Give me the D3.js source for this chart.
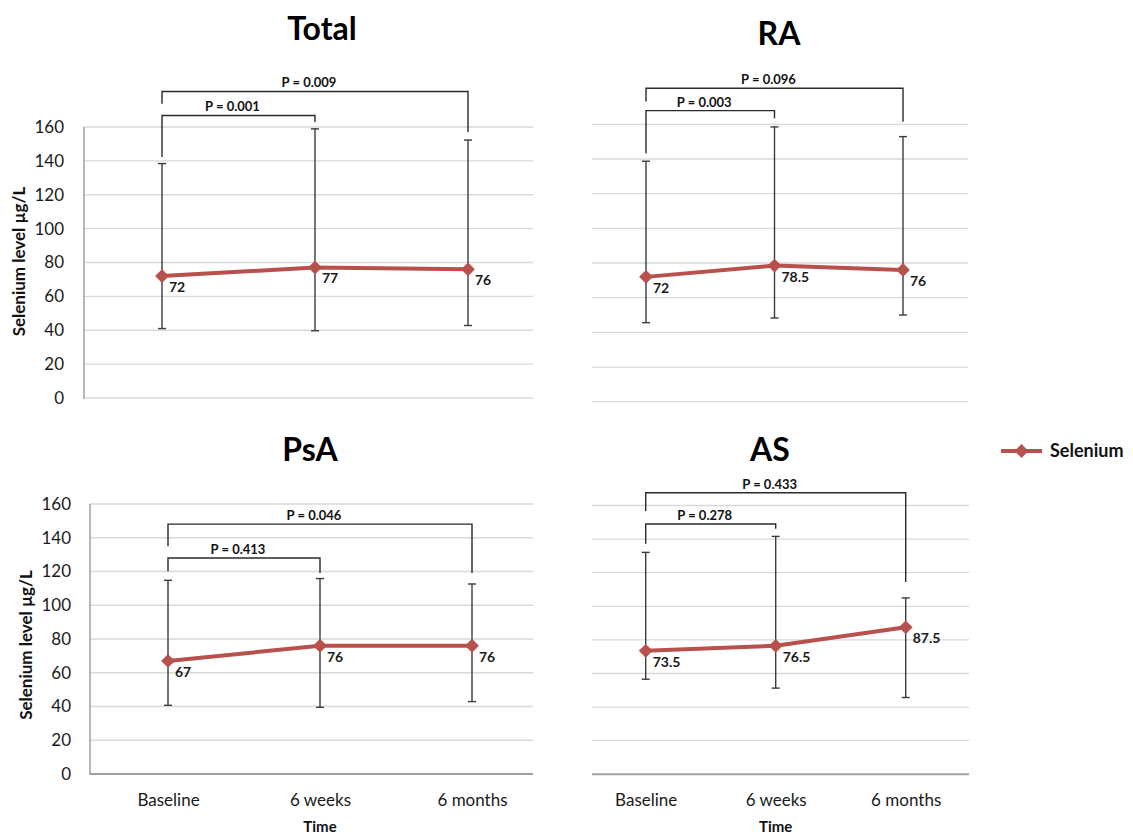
<!DOCTYPE html>
<html>
<head>
<meta charset="utf-8">
<script src="https://cdn.jsdelivr.net/npm/d3@7"></script>
<style>
  html, body { margin: 0; padding: 0; background: #ffffff; }
  svg { display: block; font-family: Lato, "Open Sans", sans-serif; }
</style>
</head>
<body>
<script>
// ---------- data ----------
const categories = ["Baseline", "6 weeks", "6 months"];
const yTicks = [0, 20, 40, 60, 80, 100, 120, 140, 160];
const seriesName = "Selenium";
const yTitle = "Selenium level \u00b5g/L";
const xTitle = "Time";

const panelTitles = ["Total", "RA", "PsA", "AS"];

const meanTotal = [72, 77, 76];
const lowTotal  = [41, 39.7, 42.8];
const highTotal = [138.4, 158.9, 152.3];
const labelsTotal = ["72", "77", "76"];

const meanRA = [72, 78.5, 76];
const lowRA  = [45.6, 48.3, 50];
const highRA = [138.7, 158.5, 152.9];
const labelsRA = ["72", "78.5", "76"];

const meanPsA = [67, 76, 76];
const lowPsA  = [40.7, 39.5, 42.9];
const highPsA = [114.8, 115.8, 112.6];
const labelsPsA = ["67", "76", "76"];

const meanAS = [73.5, 76.5, 87.5];
const lowAS  = [56.6, 51.3, 45.7];
const highAS = [132.1, 141.6, 105];
const labelsAS = ["73.5", "76.5", "87.5"];

// p-value brackets: comparison target, text, bracket level / leg ends (in data units)
const pTextTotal = ["P = 0.001", "P = 0.009"];
const pToTotal = ["6 weeks", "6 months"];
const pLevelTotal = [166.8, 181];
const pLeftEndTotal = [142.3, 173.7];
const pRightEndTotal = [162.9, 157];

const pTextRA = ["P = 0.003", "P = 0.096"];
const pToRA = ["6 weeks", "6 months"];
const pLevelRA = [167.9, 180.8];
const pLeftEndRA = [143.3, 173.1];
const pRightEndRA = [163.5, 161.5];

const pTextPsA = ["P = 0.413", "P = 0.046"];
const pToPsA = ["6 weeks", "6 months"];
const pLevelPsA = [128, 148.1];
const pLeftEndPsA = [120.1, 134.9];
const pRightEndPsA = [119.1, 119.1];

const pTextAS = ["P = 0.278", "P = 0.433"];
const pToAS = ["6 weeks", "6 months"];
const pLevelAS = [149, 167.6];
const pLeftEndAS = [137.2, 156.7];
const pRightEndAS = [146.1, 114.5];

// ---------- styles ----------
const RED = "#b8504d";
const BAR = "#3c3c3c";
const GRID = "#d9d9d9";
const AXIS = "#a0a0a0";

const svg = d3.select("body").append("svg")
  .attr("width", 1133).attr("height", 836);

function buildPanel(name, mean, low, high, labels, pText, pTo, pLevel, pLeft, pRight, layout) {
  const x = d3.scalePoint().domain(categories).range(layout.xr);
  const y = d3.scaleLinear().domain([0, 160]).range(layout.yr);
  const g = svg.append("g");

  // gridlines
  g.selectAll("line.grid").data(yTicks.filter(t => !(layout.xAxisLine && t === 0)))
    .join("line").attr("class", "grid")
    .attr("x1", layout.gx[0]).attr("x2", layout.gx[1])
    .attr("y1", d => y(d)).attr("y2", d => y(d))
    .attr("stroke", GRID).attr("stroke-width", 1.3);

  if (layout.xAxisLine) {
    g.append("line")
      .attr("x1", layout.gx[0]).attr("x2", layout.gx[1])
      .attr("y1", y(0)).attr("y2", y(0))
      .attr("stroke", AXIS).attr("stroke-width", 2);
  }
  if (layout.yAxisLine) {
    g.append("line")
      .attr("x1", layout.gx[0]).attr("x2", layout.gx[0])
      .attr("y1", y(0) + 1).attr("y2", y(160))
      .attr("stroke", AXIS).attr("stroke-width", 1.5);
  }

  if (layout.yLabels) {
    const ax = g.append("g")
      .attr("transform", `translate(${layout.gx[0]},0)`)
      .call(d3.axisLeft(y).tickValues(yTicks).tickSize(0).tickPadding(layout.tickPad));
    ax.select(".domain").remove();
    ax.selectAll("text").attr("font-size", 17).attr("fill", "#1a1a1a")
      .attr("font-family", "Lato, sans-serif");
    g.append("text")
      .attr("transform", `translate(${layout.yTitleX},${(y(0) + y(160)) / 2 + layout.yTitleDy}) rotate(-90)`)
      .attr("text-anchor", "middle").attr("dy", "0.35em")
      .attr("font-size", 17).attr("font-weight", 700).attr("fill", "#111")
      .text(yTitle);
  }

  if (layout.xLabels) {
    const ax = g.append("g")
      .attr("transform", `translate(0,${y(0)})`)
      .call(d3.axisBottom(x).tickSize(0).tickPadding(20));
    ax.select(".domain").remove();
    ax.selectAll("text").attr("font-size", 17).attr("fill", "#1a1a1a")
      .attr("font-family", "Lato, sans-serif");
    g.append("text")
      .attr("x", x(categories[1])).attr("y", y(0) + 58)
      .attr("text-anchor", "middle")
      .attr("font-size", 15).attr("font-weight", 700).attr("fill", "#111")
      .text(xTitle);
  }

  // error bars
  const eb = categories.map((c, i) => ({ c, lo: low[i], hi: high[i] }));
  g.selectAll("line.eb").data(eb).join("line").attr("class", "eb")
    .attr("x1", d => x(d.c)).attr("x2", d => x(d.c))
    .attr("y1", d => y(d.lo)).attr("y2", d => y(d.hi))
    .attr("stroke", BAR).attr("stroke-width", 1.4);
  ["lo", "hi"].forEach(k => {
    g.selectAll("line.cap" + k).data(eb).join("line").attr("class", "cap" + k)
      .attr("x1", d => x(d.c) - 4).attr("x2", d => x(d.c) + 4)
      .attr("y1", d => y(d[k])).attr("y2", d => y(d[k]))
      .attr("stroke", BAR).attr("stroke-width", 1.4);
  });

  // line
  const pts = categories.map((c, i) => ({ c, v: mean[i], lab: labels[i] }));
  g.append("path").datum(pts)
    .attr("d", d3.line().x(d => x(d.c)).y(d => y(d.v)))
    .attr("fill", "none").attr("stroke", RED).attr("stroke-width", 4)
    .attr("stroke-linejoin", "round");
  g.selectAll("path.mk").data(pts).join("path").attr("class", "mk")
    .attr("d", d3.symbol(d3.symbolSquare).size(95))
    .attr("transform", d => `translate(${x(d.c)},${y(d.v)}) rotate(45)`)
    .attr("fill", RED);
  g.selectAll("text.dl").data(pts).join("text").attr("class", "dl")
    .attr("x", d => x(d.c) + 7).attr("y", d => y(d.v) + 11)
    .attr("dy", "0.35em")
    .attr("font-size", 14).attr("font-weight", 700).attr("fill", "#1a1a1a")
    .text(d => d.lab);

  // p-value brackets
  const br = pText.map((t, i) => ({ t, to: pTo[i], lv: pLevel[i], le: pLeft[i], re: pRight[i] }));
  const x0 = x(categories[0]);
  g.selectAll("path.br").data(br).join("path").attr("class", "br")
    .attr("d", d => `M${x0},${y(d.le)}V${y(d.lv)}H${x(d.to)}V${y(d.re)}`)
    .attr("fill", "none").attr("stroke", "#2a2a2a").attr("stroke-width", 1.4);
  g.selectAll("text.pv").data(br).join("text").attr("class", "pv")
    .attr("x", d => (x0 + x(d.to)) / 2 - 6).attr("y", d => y(d.lv) - 4)
    .attr("text-anchor", "middle")
    .attr("font-size", 13).attr("font-weight", 700).attr("fill", "#111")
    .text(d => d.t);

  // title
  g.append("text")
    .attr("x", layout.titleX).attr("y", layout.titleY)
    .attr("text-anchor", "middle")
    .attr("font-size", 32).attr("font-weight", 700).attr("fill", "#000")
    .text(name);
}

buildPanel(panelTitles[0], meanTotal, lowTotal, highTotal, labelsTotal,
  pTextTotal, pToTotal, pLevelTotal, pLeftEndTotal, pRightEndTotal,
  { xr: [162, 468], gx: [84, 533], yr: [398, 127], yLabels: true, yAxisLine: true,
    xAxisLine: false, xLabels: false, tickPad: 20, yTitleX: 19, yTitleDy: -1,
    titleX: 322, titleY: 40 });

buildPanel(panelTitles[1], meanRA, lowRA, highRA, labelsRA,
  pTextRA, pToRA, pLevelRA, pLeftEndRA, pRightEndRA,
  { xr: [646, 903], gx: [592, 968], yr: [401.7, 124.3], yLabels: false, yAxisLine: false,
    xAxisLine: false, xLabels: false, titleX: 779, titleY: 45 });

buildPanel(panelTitles[2], meanPsA, lowPsA, highPsA, labelsPsA,
  pTextPsA, pToPsA, pLevelPsA, pLeftEndPsA, pRightEndPsA,
  { xr: [168, 472], gx: [90, 533], yr: [774, 504], yLabels: true, yAxisLine: true,
    xAxisLine: true, xLabels: true, tickPad: 19, yTitleX: 26, yTitleDy: 6,
    titleX: 310, titleY: 461 });

buildPanel(panelTitles[3], meanAS, lowAS, highAS, labelsAS,
  pTextAS, pToAS, pLevelAS, pLeftEndAS, pRightEndAS,
  { xr: [645.7, 905.7], gx: [592, 969], yr: [774.3, 505.5], yLabels: false, yAxisLine: false,
    xAxisLine: true, xLabels: true, titleX: 770, titleY: 461 });

// legend
const lg = svg.append("g").attr("transform", "translate(1001,451)");
lg.append("line").attr("x1", 0).attr("x2", 41).attr("y1", 0).attr("y2", 0)
  .attr("stroke", RED).attr("stroke-width", 4);
lg.append("path").attr("d", d3.symbol(d3.symbolSquare).size(95))
  .attr("transform", "translate(20.5,0) rotate(45)").attr("fill", RED);
lg.append("text").attr("x", 49).attr("y", 0).attr("dy", "0.35em")
  .attr("font-size", 18).attr("font-weight", 700).attr("fill", "#111")
  .text(seriesName);
</script>
</body>
</html>
